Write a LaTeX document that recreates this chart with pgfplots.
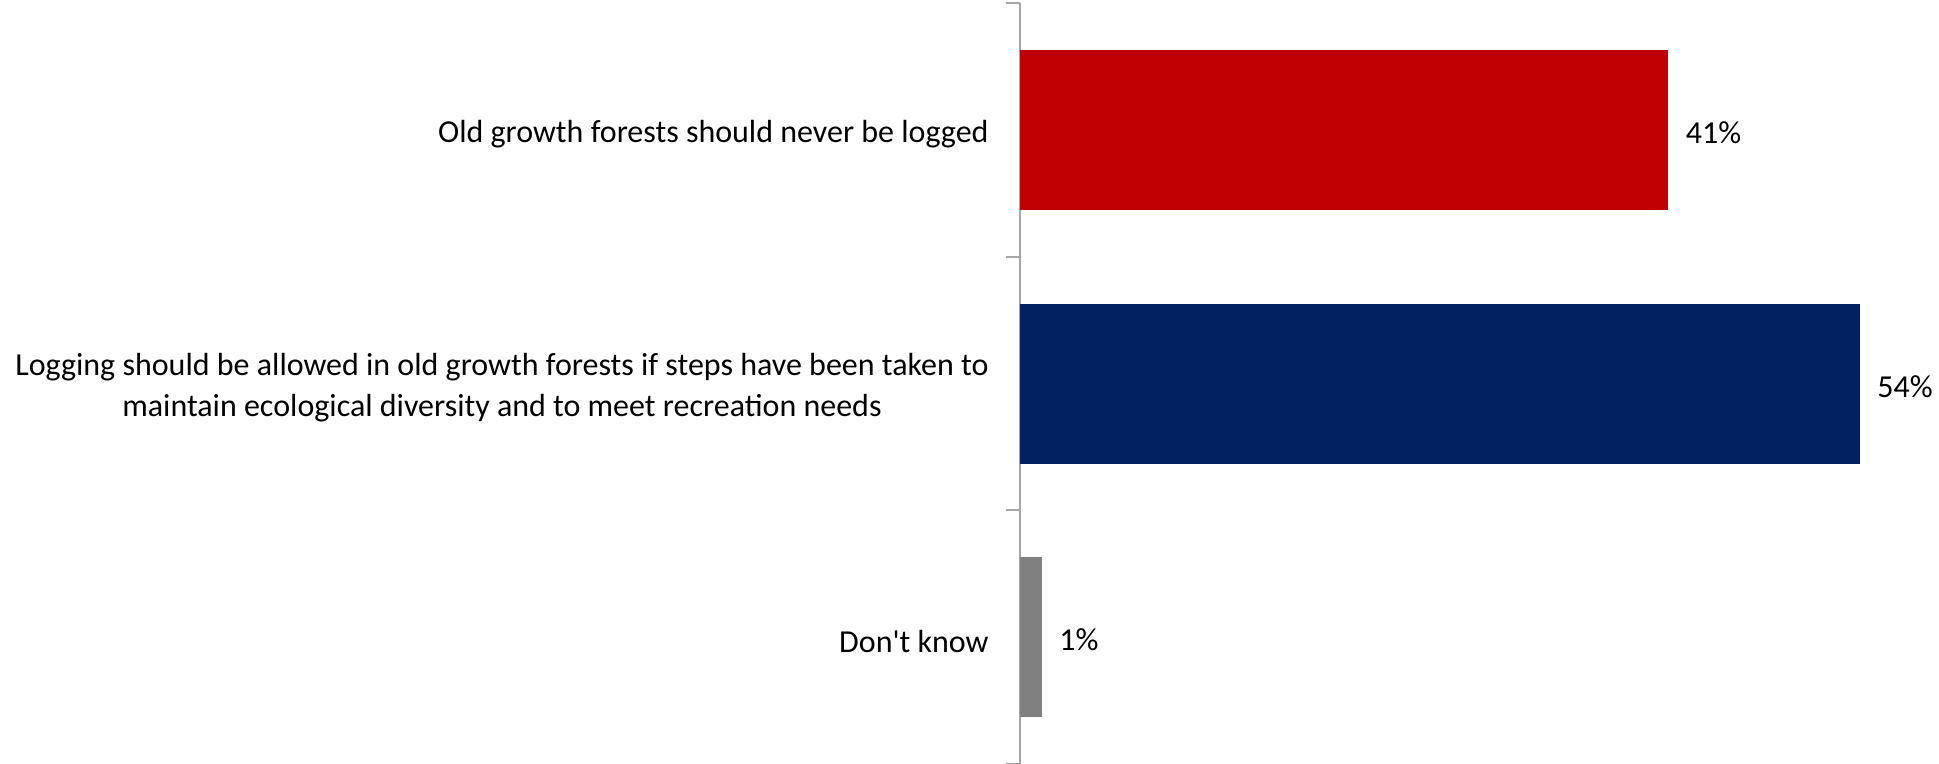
\documentclass[border=0pt]{standalone}
\usepackage{fontspec}
\setmainfont{Carlito}[Ligatures=TeXOff]
\usepackage{pgfplots}
\pgfplotsset{compat=1.18}
\definecolor{cred}{HTML}{C00000}
\definecolor{cnavy}{HTML}{002060}
\definecolor{cgrey}{HTML}{808080}
\definecolor{caxis}{HTML}{A6A6A6}
\begin{document}
\begin{tikzpicture}
\begin{axis}[
  at={(0,0)}, anchor=south west,
  scale only axis,
  width=459.5pt, height=380.5pt,
  xmin=0, xmax=58.53,
  ymin=-0.5, ymax=2.5,
  y dir=reverse,
  axis x line=none,
  axis y line=left,
  axis line style={-, draw=caxis, line width=1pt},
  ytick={0,1,2},
  yticklabels={Old growth forests should never be logged,{Logging should be allowed in old growth forests if steps have been taken to\\maintain ecological diversity and to meet recreation needs},Don't know},
  major tick length=0pt,
  minor ytick={-0.5,0.5,1.5,2.5},
  minor tick length=7pt,
  tick align=outside,
  ytick pos=left,
  tick style={draw=caxis, line width=1pt},
  yticklabel style={align=center, anchor=east, inner sep=0pt, xshift=-15.5pt, yshift=-2pt, font=\fontsize{16}{20.5}\selectfont, text=black},
  xbar, bar width=80pt,
  bar shift=0pt,
  point meta=explicit symbolic,
  nodes near coords,
  every node near coord/.append style={anchor=west, inner sep=0pt, xshift=8.5pt, yshift=-1.5pt, font=\fontsize{16}{20.5}\selectfont, text=black},
  clip=false,
]
\addplot[draw=none, fill=cred] table[meta=lab] {
x y lab
41.3 0 41\%
};
\addplot[draw=none, fill=cnavy] table[meta=lab] {
x y lab
53.5 1 54\%
};
\addplot[draw=none, fill=cgrey] table[meta=lab] {
x y lab
1.4 2 1\%
};
\end{axis}
\pgfresetboundingbox
\path[use as bounding box] (-510pt,0pt) rectangle (459.5pt,382pt);
\end{tikzpicture}
\end{document}
